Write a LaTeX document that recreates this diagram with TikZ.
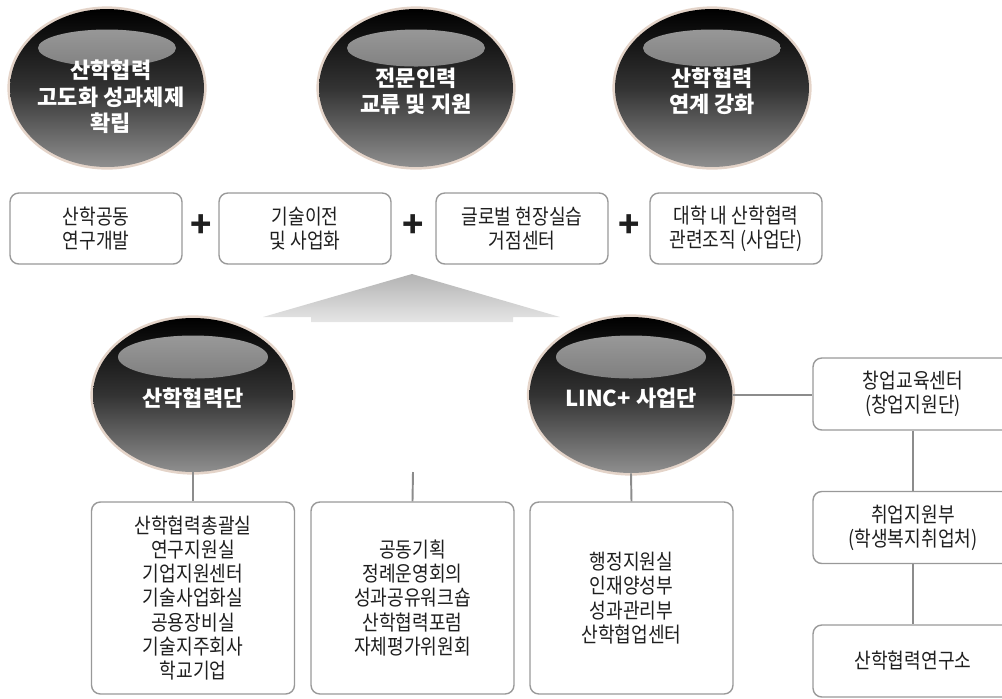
\documentclass[tikz,border=0pt]{standalone}
\usepackage{fontspec}
\newfontfamily\kr{Noto Sans CJK KR}
\newfontfamily\krbox[FakeStretch=0.86]{Noto Sans CJK KR}
\usetikzlibrary{shapes.geometric,calc}
\definecolor{glowc}{RGB}{196,160,136}
\definecolor{linkc}{RGB}{140,140,140}
\tikzset{
  hilite/.style n args={3}{path picture={\shade[top color=black!36, bottom color=black!72]
      ([yshift=#1]path picture bounding box.center) ellipse [x radius=#2, y radius=#3];}},
  ball/.style={ellipse, inner sep=0pt, minimum width=3.88cm, minimum height=3.16cm,
    top color=black, bottom color=black!44, middle color=black!80,
    preaction={draw=glowc, line width=3pt, opacity=0.45},
    hilite={0.8cm}{1.38cm}{0.37cm}},
  balltext/.style={text=white, align=center, inner sep=0pt,
    font=\kr\bfseries\fontsize{12.5}{15}\selectfont},
  infobox/.style={draw=black!40, line width=0.8pt, rounded corners=5pt, fill=white,
    align=center, text=black!88, inner sep=0pt, font=\krbox\fontsize{12}{13.8}\selectfont},
  topbox/.style={infobox, minimum width=3.44cm, minimum height=1.42cm},
  unitbox/.style={infobox, minimum width=4.06cm, minimum height=3.84cm},
  sidebox/.style={infobox, minimum width=4cm, minimum height=1.44cm},
  link/.style={draw=linkc, line width=1.1pt},
  plus/.style={font=\kr\bfseries\fontsize{20}{20}\selectfont, text=black!88}
}
\begin{document}
\begin{tikzpicture}[x=0.02cm, y=-0.02cm]
    \useasboundingbox (0,0) rectangle (1002,698);
    \clip (0,0) rectangle (1002,698);
    % goals
    \node[ball] (t1) at (107,88) {};
    \node[ball] (t2) at (416,88) {};
    \node[ball] (t3) at (712,88) {};
    \node[balltext] (t1l) at ($(t1)+(4,9)$) {산학협력\\고도화 성과체제\\확립};
    \node[balltext] (t2l) at ($(t2)+(0,3)$) {전문인력\\교류 및 지원};
    \node[balltext] (t3l) at ($(t3)+(0,3)$) {산학협력\\연계 강화};

    % functions
    \node[topbox] (k1) at (96,228.5) {산학공동\\연구개발};
    \node[topbox] (k2) at (305,228.5) {기술이전\\및 사업화};
    \node[topbox] (k3) at (522,228.5) {글로벌 현장실습\\거점센터};
    \node[topbox] (k4) at (736,228.5) {대학 내 산학협력\\관련조직 (사업단)};
    \node[plus] (p1) at (201,226) {+};
    \node[plus] (p2) at (413,226) {+};
    \node[plus] (p3) at (629,226) {+};

    % arrow
    \shade[top color=black!30, bottom color=black!10] (412,274) -- (560,317) -- (513,317) -- (513,322)
        -- (311,322) -- (311,317) -- (263,317) -- cycle;

    % units
    \node[ball, minimum width=4cm, minimum height=3.08cm, hilite={0.76cm}{1.5cm}{0.43cm}] (lb) at (193,395) {};
    \node[ball, minimum width=4.06cm, minimum height=3.12cm, hilite={0.76cm}{1.5cm}{0.43cm}] (lc) at (631,395) {};
    \node[balltext] (lbl) at ($(lb)+(0,3)$) {산학협력단};
    \node[balltext] (lcl) at ($(lc)+(0,3)$) {LINC+ 사업단};

    \node[unitbox] (ba) at (193,598) {산학협력총괄실\\연구지원실\\기업지원센터\\기술사업화실\\공용장비실\\기술지주회사\\학교기업};
    \node[unitbox] (bb) at (412.5,598) {공동기획\\정례운영회의\\성과공유워크숍\\산학협력포럼\\자체평가위원회};
    \node[unitbox] (bc) at (631.5,598) {행정지원실\\인재양성부\\성과관리부\\산학협업센터};

    \node[sidebox] (r1) at (913,394) {창업교육센터\\(창업지원단)};
    \node[sidebox] (r2) at (913,527.5) {취업지원부\\(학생복지취업처)};
    \node[sidebox] (r3) at (913,661) {산학협력연구소};

    % lines
    \coordinate (bbtop) at (413,472);
    \draw[link] (lb.south) -- (ba.north);
    \draw[link] (bbtop) -- (bb.north);
    \draw[link] (lc.south) -- (bc.north);
    \draw[link] (lc.east) -- (lc.east -| r1.west);
    \draw[link] (r1) -- (r2);
    \draw[link] (r2) -- (r3);
\end{tikzpicture}
\end{document}
